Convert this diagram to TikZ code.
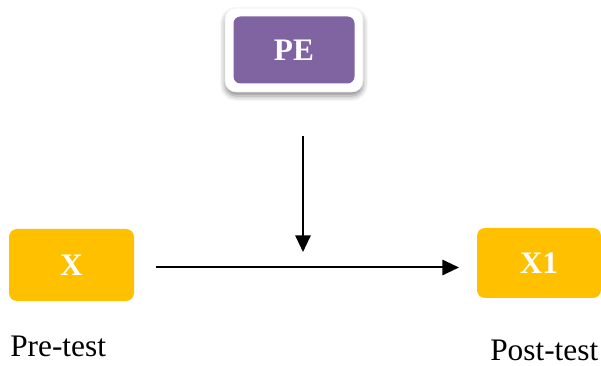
\documentclass[tikz,border=0pt]{standalone}
\usepackage{fontspec}
\setmainfont{Liberation Serif}
\usetikzlibrary{positioning}
\usetikzlibrary{calc}
\usetikzlibrary{arrows.meta}
\usetikzlibrary{shadows.blur}
\colorlet{border}{black}
\colorlet{frame}{white}
\definecolor{treatment}{HTML}{8064A2}
\definecolor{measure}{HTML}{FFC000}
\newcommand\px{0.75pt}
\newcommand\boxfont{\fontsize{23.5}{28}\selectfont\bfseries}
\newcommand\labelfont{\fontsize{23.5}{28}\selectfont}

\begin{document}
\begin{tikzpicture}[x=0.75pt, y=-0.75pt]
    \useasboundingbox (0, 0) rectangle (601, 366);

    \tikzset{
        pe frame/.style={
            draw=black!6, fill=frame, rectangle,
            rounded corners={11*\px},
            minimum width={138*\px},
            minimum height={84*\px},
            blur shadow={
                shadow xshift=0pt, shadow yshift=-3pt,
                shadow blur radius=4pt, shadow opacity=45,
            },
        },
        treatment box/.style={
            fill=treatment, rectangle,
            rounded corners={7*\px},
            minimum width={121*\px},
            minimum height={67*\px},
            text=white, font=\boxfont,
        },
        measure box/.style={
            fill=measure, rectangle,
            rounded corners={8*\px},
            text=white, font=\boxfont,
        },
        test label/.style={
            anchor=base west, inner sep=0pt,
            font=\labelfont,
        },
        flow/.style={
            border, line width={2*\px},
            -{Triangle[length=12.5pt, width=11.5pt]},
        },
    }

    % Treatment
    \node[pe frame] (pe-frame) at (294, 50) {};
    \node[treatment box] (pe) at (pe-frame.center) {PE};

    % Pre-test
    \node[measure box, minimum width={125*\px}, minimum height={72*\px}]
        (x) at (71.5, 265) {X};
    \node[test label] (pre-label) at (10, 357) {Pre-test};

    % Post-test
    \node[measure box, minimum width={124*\px}, minimum height={70*\px}]
        (x1) at (539, 263) {X1};
    \node[test label] (post-label) at (490, 361) {Post-test};

    % Arrows
    \coordinate (pre-out) at (156, 267.5);
    \coordinate (post-in) at (459, 267.5);
    \draw[flow] (pre-out) -- (post-in);

    \coordinate (pe-out) at (303, 136);
    \coordinate (pe-in) at (303, 252);
    \draw[flow] (pe-out) -- (pe-in);
\end{tikzpicture}
\end{document}
